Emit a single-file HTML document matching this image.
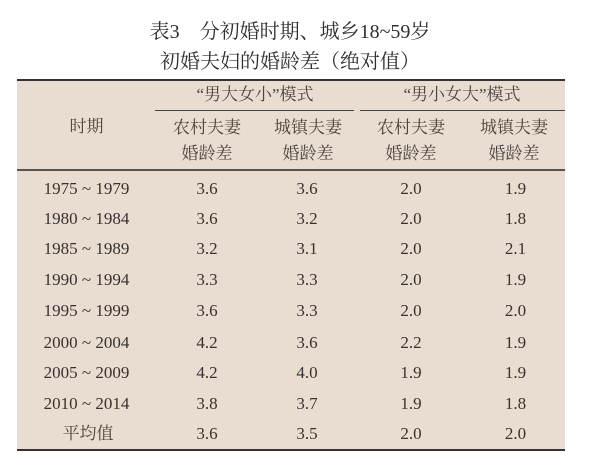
<!DOCTYPE html>
<html>
<head>
<meta charset="utf-8">
<style>
  html, body { margin:0; padding:0; background:#ffffff; }
  body { width:600px; height:472px; position:relative; overflow:hidden;
         font-family:"Liberation Serif","Noto Serif CJK SC",serif; color:#36322f; }
  .title { position:absolute; left:90px; width:400px; text-align:center;
           font-family:"Liberation Serif","Noto Serif CJK SC",serif; font-size:20px;
           color:#2f2f2f; line-height:28px; height:28px; white-space:nowrap; }
  .bg { position:absolute; left:17px; top:80px; width:548px; height:370px; background:#e9ddd1; }
  .rule { position:absolute; background:#3a3a3a; }
  .c { position:absolute; width:120px; text-align:center; height:24px; line-height:24px;
       font-size:17px; white-space:nowrap; }
  .h { font-family:"Liberation Serif","Noto Serif CJK SC",serif; color:#4a4440; font-size:17px; }
</style>
</head>
<body>
  <div class="title" style="top:18px;">表3　分初婚时期、城乡18~59岁</div>
  <div class="title" style="top:48px;">初婚夫妇的婚龄差（绝对值）</div>

  <div class="bg"></div>
  <div class="rule" style="left:17px; top:79px; width:548px; height:2px; background:#333;"></div>
  <div class="rule" style="left:155px; top:110px; width:199px; height:1px; background:#444;"></div>
  <div class="rule" style="left:360px; top:110px; width:205px; height:1px; background:#444;"></div>
  <div class="rule" style="left:17px; top:169px; width:548px; height:2px; background:#5a5450;"></div>
  <div class="rule" style="left:17px; top:449px; width:548px; height:2px; background:#333;"></div>

  <!-- header -->
  <div class="c h" style="left:195px; top:83px;">“男大女小”模式</div>
  <div class="c h" style="left:402px; top:83px;">“男小女大”模式</div>
  <div class="c h" style="left:26.5px; top:115px;">时期</div>
  <div class="c h" style="left:147px; top:116px;">农村夫妻</div>
  <div class="c h" style="left:248px; top:116px;">城镇夫妻</div>
  <div class="c h" style="left:351px; top:116px;">农村夫妻</div>
  <div class="c h" style="left:454px; top:116px;">城镇夫妻</div>
  <div class="c h" style="left:147px; top:142px;">婚龄差</div>
  <div class="c h" style="left:248px; top:142px;">婚龄差</div>
  <div class="c h" style="left:351px; top:142px;">婚龄差</div>
  <div class="c h" style="left:454px; top:142px;">婚龄差</div>

  <!-- rows -->
  <div class="c" style="left:26.5px; top:177px;">1975 ~ 1979</div>
  <div class="c" style="left:147px; top:177px;">3.6</div>
  <div class="c" style="left:247px; top:177px;">3.6</div>
  <div class="c" style="left:351px; top:177px;">2.0</div>
  <div class="c" style="left:455.5px; top:177px;">1.9</div>

  <div class="c" style="left:26.5px; top:207px;">1980 ~ 1984</div>
  <div class="c" style="left:147px; top:207px;">3.6</div>
  <div class="c" style="left:247px; top:207px;">3.2</div>
  <div class="c" style="left:351px; top:207px;">2.0</div>
  <div class="c" style="left:455.5px; top:207px;">1.8</div>

  <div class="c" style="left:26.5px; top:237px;">1985 ~ 1989</div>
  <div class="c" style="left:147px; top:237px;">3.2</div>
  <div class="c" style="left:247px; top:237px;">3.1</div>
  <div class="c" style="left:351px; top:237px;">2.0</div>
  <div class="c" style="left:455.5px; top:237px;">2.1</div>

  <div class="c" style="left:26.5px; top:268px;">1990 ~ 1994</div>
  <div class="c" style="left:147px; top:268px;">3.3</div>
  <div class="c" style="left:247px; top:268px;">3.3</div>
  <div class="c" style="left:351px; top:268px;">2.0</div>
  <div class="c" style="left:455.5px; top:268px;">1.9</div>

  <div class="c" style="left:26.5px; top:299px;">1995 ~ 1999</div>
  <div class="c" style="left:147px; top:299px;">3.6</div>
  <div class="c" style="left:247px; top:299px;">3.3</div>
  <div class="c" style="left:351px; top:299px;">2.0</div>
  <div class="c" style="left:455.5px; top:299px;">2.0</div>

  <div class="c" style="left:26.5px; top:331px;">2000 ~ 2004</div>
  <div class="c" style="left:147px; top:331px;">4.2</div>
  <div class="c" style="left:247px; top:331px;">3.6</div>
  <div class="c" style="left:351px; top:331px;">2.2</div>
  <div class="c" style="left:455.5px; top:331px;">1.9</div>

  <div class="c" style="left:26.5px; top:361px;">2005 ~ 2009</div>
  <div class="c" style="left:147px; top:361px;">4.2</div>
  <div class="c" style="left:247px; top:361px;">4.0</div>
  <div class="c" style="left:351px; top:361px;">1.9</div>
  <div class="c" style="left:455.5px; top:361px;">1.9</div>

  <div class="c" style="left:26.5px; top:392px;">2010 ~ 2014</div>
  <div class="c" style="left:147px; top:392px;">3.8</div>
  <div class="c" style="left:247px; top:392px;">3.7</div>
  <div class="c" style="left:351px; top:392px;">1.9</div>
  <div class="c" style="left:455.5px; top:392px;">1.8</div>

  <div class="c h" style="left:28px; top:422px;">平均值</div>
  <div class="c" style="left:147px; top:422px;">3.6</div>
  <div class="c" style="left:247px; top:422px;">3.5</div>
  <div class="c" style="left:351px; top:422px;">2.0</div>
  <div class="c" style="left:455.5px; top:422px;">2.0</div>
</body>
</html>
